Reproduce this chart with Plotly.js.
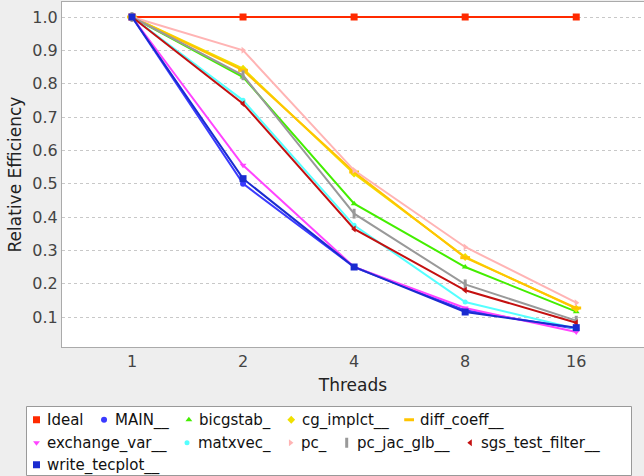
<!DOCTYPE html>
<html>
<head>
<meta charset="utf-8">
<script src="https://cdn.plot.ly/plotly-3.0.1.min.js"></script>
<style>html,body{margin:0;padding:0;background:#eeeeee;}#chart{width:644px;height:476px;}</style>
</head>
<body>
<div id="chart"></div>
<script>
const threads = ['1', '2', '4', '8', '16'];
const seriesNames = ['Ideal', 'MAIN__', 'bicgstab_', 'cg_implct__', 'diff_coeff__', 'exchange_var__', 'matxvec_', 'pc_', 'pc_jac_glb__', 'sgs_test_filter__', 'write_tecplot__'];
const ideal        = [1.0, 1.0,   1.0,   1.0,   1.0];
const mainVals     = [1.0, 0.500, 0.250, 0.120, 0.065];
const bicgstab     = [1.0, 0.820, 0.440, 0.250, 0.116];
const cgImplct     = [1.0, 0.845, 0.530, 0.280, 0.125];
const diffCoeff    = [1.0, 0.840, 0.535, 0.278, 0.127];
const exchangeVar  = [1.0, 0.555, 0.250, 0.127, 0.055];
const matxvec      = [1.0, 0.750, 0.375, 0.145, 0.065];
const pcVals       = [1.0, 0.900, 0.540, 0.310, 0.143];
const pcJacGlb     = [1.0, 0.825, 0.410, 0.198, 0.089];
const sgsTestFilter= [1.0, 0.740, 0.364, 0.180, 0.083];
const writeTecplot = [1.0, 0.515, 0.250, 0.115, 0.068];
const allValues = [ideal, mainVals, bicgstab, cgImplct, diffCoeff, exchangeVar, matxvec, pcVals, pcJacGlb, sgsTestFilter, writeTecplot];

const colors  = ['#ff2a00', '#3a3aff', '#44ee00', '#f0e000', '#ffc400', '#ff44ff', '#55ffff', '#ffb4b4', '#999999', '#c41010', '#1a2bd0'];
const symbols = ['square', 'circle', 'triangle-up', 'diamond', 'line-ew', 'triangle-down', 'circle', 'triangle-right', 'line-ns', 'triangle-left', 'square'];
const sizes   = [7, 6, 6, 6, 7, 6, 5, 6, 7, 6, 7];
const legendRow = [0, 0, 0, 0, 0, 1, 1, 1, 1, 1, 2];

const W = 644, H = 476;
const M = {l: 62, r: 0, t: 2, b: 129};
const PW = W - M.l - M.r, PH = H - M.t - M.b;
const LEG_FONT = {family: 'DejaVu Sans', size: 15, color: '#111111'};
const rowCenterPx = [420, 443, 465];
const firstMarkerPx = 34, markerToText = 12, textToMarker = 19, legendSymbolOffset = 17.5;

// measure legend text widths for a flowing legend layout
const cv = document.createElement('canvas').getContext('2d');
cv.font = LEG_FONT.size + 'px "' + LEG_FONT.family + '"';
const markerPx = [], textPx = [];
let cursor = firstMarkerPx, lastRow = 0;
seriesNames.forEach((name, i) => {
  if (legendRow[i] !== lastRow) { cursor = firstMarkerPx; lastRow = legendRow[i]; }
  markerPx.push(cursor);
  textPx.push(cursor + markerToText);
  cursor = cursor + markerToText + cv.measureText(name).width + textToMarker;
});

const traces = [];
seriesNames.forEach((name, i) => {
  const isLine = symbols[i].startsWith('line');
  traces.push({
    x: threads, y: allValues[i], name: name, type: 'scatter', mode: 'lines+markers',
    showlegend: false,
    line: {color: colors[i], width: 2},
    marker: {symbol: symbols[i], size: sizes[i], color: colors[i],
             line: {color: colors[i], width: isLine ? 3 : 0}}
  });
});
seriesNames.forEach((name, i) => {
  const isLine = symbols[i].startsWith('line');
  traces.push({
    x: [null], y: [null], name: ' ', type: 'scatter', mode: 'markers',
    showlegend: true, legend: i === 0 ? 'legend' : 'legend' + (i + 1),
    marker: {symbol: symbols[i], size: sizes[i], color: colors[i],
             line: {color: colors[i], width: isLine ? 3 : 0}}
  });
});

const annotations = seriesNames.map((name, i) => ({
  text: name, showarrow: false, xref: 'paper', yref: 'paper',
  x: (textPx[i] - 1 - M.l) / PW, xanchor: 'left',
  y: (H - M.b - rowCenterPx[legendRow[i]]) / PH, yanchor: 'middle',
  font: LEG_FONT
}));

const layout = {
  width: W, height: H,
  paper_bgcolor: '#eeeeee', plot_bgcolor: '#ffffff',
  margin: M,
  font: {family: 'DejaVu Sans', size: 16, color: '#333333'},
  showlegend: true,
  xaxis: {
    type: 'category', categoryorder: 'array', categoryarray: threads,
    range: [-0.63, 4.61], showgrid: false, zeroline: false,
    showline: true, linecolor: '#aaaaaa', linewidth: 1, mirror: true,
    ticks: '', tickfont: {family: 'DejaVu Sans', size: 16, color: '#444444'},
    title: {text: 'Threads', font: {family: 'DejaVu Sans', size: 17, color: '#222222'}, standoff: 8}
  },
  yaxis: {
    range: [0.01, 1.045], tick0: 0.1, dtick: 0.1, tickformat: '.1f',
    showgrid: true, gridcolor: '#c8c8c8', griddash: 'dot', gridwidth: 1,
    zeroline: false, showline: true, linecolor: '#aaaaaa', linewidth: 1,
    ticks: '', tickfont: {family: 'DejaVu Sans', size: 16, color: '#444444'},
    title: {text: 'Relative Efficiency', font: {family: 'DejaVu Sans', size: 17, color: '#222222'}, standoff: 6}
  },
  shapes: [{
    type: 'rect', xref: 'paper', yref: 'paper', layer: 'above',
    x0: (26.5 - M.l) / PW, x1: (631.5 - M.l) / PW,
    y0: (H - M.b - 475.5) / PH, y1: (H - M.b - 406.5) / PH,
    fillcolor: '#ffffff', line: {color: '#999999', width: 1}
  }],
  annotations: annotations
};

seriesNames.forEach((name, i) => {
  const key = i === 0 ? 'legend' : 'legend' + (i + 1);
  layout[key] = {
    orientation: 'h', xref: 'container', yref: 'container',
    x: (markerPx[i] - legendSymbolOffset) / W, xanchor: 'left',
    y: 1 - rowCenterPx[legendRow[i]] / H, yanchor: 'middle',
    bgcolor: 'rgba(0,0,0,0)', borderwidth: 0,
    font: LEG_FONT, itemwidth: 30
  };
});

Plotly.newPlot('chart', traces, layout, {displayModeBar: false, staticPlot: true});
</script>
</body>
</html>
